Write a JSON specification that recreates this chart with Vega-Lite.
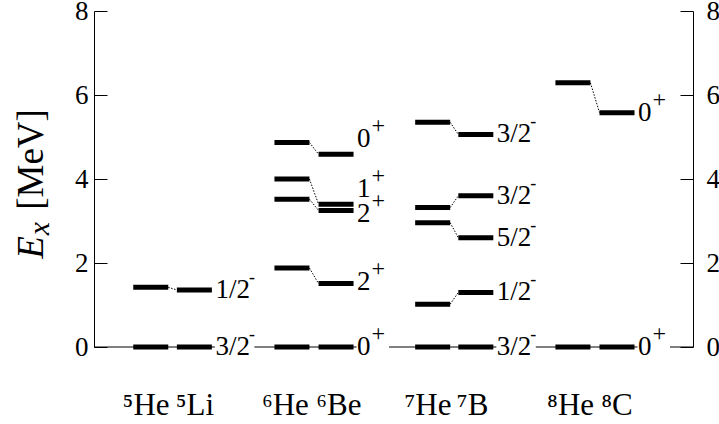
{
  "$schema": "https://vega.github.io/schema/vega-lite/v6.json",
  "width": 599,
  "height": 336,
  "autosize": {"type": "none"},
  "padding": {"left": 94, "top": 11, "right": 26, "bottom": 77},
  "background": "white",
  "config": {
    "view": {"stroke": null},
    "font": "Liberation Serif",
    "axis": {"grid": false, "domainColor": "black", "tickColor": "black", "labelColor": "black", "titleColor": "black", "labelFont": "Liberation Serif", "titleFont": "Liberation Serif", "titleFontWeight": "normal"},
    "text": {"font": "Liberation Serif", "color": "black"}
  },
  "datasets": {
    "nuclei": [
      {"nuc": "5He", "pos": 1.21}, {"nuc": "5Li", "pos": 2.14},
      {"nuc": "6He", "pos": 4.22}, {"nuc": "6Be", "pos": 5.16},
      {"nuc": "7He", "pos": 7.22}, {"nuc": "7B", "pos": 8.14},
      {"nuc": "8He", "pos": 10.21}, {"nuc": "8C", "pos": 11.15},
      {"nuc": "axisL", "pos": 0}, {"nuc": "axisR", "pos": 12.77}
    ],
    "levels": [
      {"nuc": "5He", "E": 0}, {"nuc": "5He", "E": 1.42},
      {"nuc": "5Li", "E": 0}, {"nuc": "5Li", "E": 1.36},
      {"nuc": "6He", "E": 0}, {"nuc": "6He", "E": 1.88}, {"nuc": "6He", "E": 3.52}, {"nuc": "6He", "E": 4.0}, {"nuc": "6He", "E": 4.87},
      {"nuc": "6Be", "E": 0}, {"nuc": "6Be", "E": 1.51}, {"nuc": "6Be", "E": 3.25}, {"nuc": "6Be", "E": 3.4}, {"nuc": "6Be", "E": 4.59},
      {"nuc": "7He", "E": 0}, {"nuc": "7He", "E": 1.02}, {"nuc": "7He", "E": 2.96}, {"nuc": "7He", "E": 3.32}, {"nuc": "7He", "E": 5.35},
      {"nuc": "7B", "E": 0}, {"nuc": "7B", "E": 1.3}, {"nuc": "7B", "E": 2.6}, {"nuc": "7B", "E": 3.6}, {"nuc": "7B", "E": 5.06},
      {"nuc": "8He", "E": 0}, {"nuc": "8He", "E": 6.29},
      {"nuc": "8C", "E": 0}, {"nuc": "8C", "E": 5.58}
    ],
    "links": [
      {"from": "5He", "to": "5Li", "E1": 1.42, "E2": 1.36},
      {"from": "6He", "to": "6Be", "E1": 4.87, "E2": 4.59},
      {"from": "6He", "to": "6Be", "E1": 4.0, "E2": 3.4},
      {"from": "6He", "to": "6Be", "E1": 3.52, "E2": 3.25},
      {"from": "6He", "to": "6Be", "E1": 1.88, "E2": 1.51},
      {"from": "7He", "to": "7B", "E1": 5.35, "E2": 5.06},
      {"from": "7He", "to": "7B", "E1": 3.32, "E2": 3.6},
      {"from": "7He", "to": "7B", "E1": 2.96, "E2": 2.6},
      {"from": "7He", "to": "7B", "E1": 1.02, "E2": 1.3},
      {"from": "8He", "to": "8C", "E1": 6.29, "E2": 5.58}
    ],
    "labels": [
      {"nuc": "5Li", "E": 1.36, "base": "1/2", "sup": "-"},
      {"nuc": "5Li", "E": 0, "base": "3/2", "sup": "-"},
      {"nuc": "6Be", "E": 4.96, "base": "0", "sup": "+"},
      {"nuc": "6Be", "E": 3.76, "base": "1", "sup": "+"},
      {"nuc": "6Be", "E": 3.17, "base": "2", "sup": "+"},
      {"nuc": "6Be", "E": 1.54, "base": "2", "sup": "+"},
      {"nuc": "6Be", "E": 0, "base": "0", "sup": "+"},
      {"nuc": "7B", "E": 5.06, "base": "3/2", "sup": "-"},
      {"nuc": "7B", "E": 3.6, "base": "3/2", "sup": "-"},
      {"nuc": "7B", "E": 2.6, "base": "5/2", "sup": "-"},
      {"nuc": "7B", "E": 1.3, "base": "1/2", "sup": "-"},
      {"nuc": "7B", "E": 0, "base": "3/2", "sup": "-"},
      {"nuc": "8C", "E": 5.58, "base": "0", "sup": "+"},
      {"nuc": "8C", "E": 0, "base": "0", "sup": "+"}
    ],
    "baseline": [
      {"from": "axisL", "to": "5He", "gap": "none"},
      {"from": "5He", "to": "5Li", "gap": "pair"},
      {"from": "5Li", "to": "6He", "gap": "half"},
      {"from": "6He", "to": "6Be", "gap": "pair"},
      {"from": "6Be", "to": "7He", "gap": "int"},
      {"from": "7He", "to": "7B", "gap": "pair"},
      {"from": "7B", "to": "8He", "gap": "half"},
      {"from": "8He", "to": "8C", "gap": "pair"},
      {"from": "8C", "to": "axisR", "gap": "int"}
    ]
  },
  "resolve": {"axis": {"y": "independent", "x": "independent"}},
  "layer": [
    {
      "data": {"name": "baseline"},
      "transform": [
        {"filter": "datum.gap == 'none'"},
        {"lookup": "from", "from": {"data": {"name": "nuclei"}, "key": "nuc", "fields": ["pos"]}, "as": ["fromPos"]},
        {"lookup": "to", "from": {"data": {"name": "nuclei"}, "key": "nuc", "fields": ["pos"]}, "as": ["toPos"]}
      ],
      "mark": {"type": "rule", "color": "black", "strokeWidth": 1},
      "encoding": {
        "x": {"field": "fromPos", "type": "quantitative", "scale": {"domain": [0, 12.77], "nice": false, "zero": false}, "axis": null},
        "x2": {"field": "toPos"},
        "y": {"datum": 0, "type": "quantitative", "scale": {"domain": [0, 8], "nice": false, "zero": false}, "axis": null}
      }
    },
    {
      "data": {"name": "baseline"},
      "transform": [
        {"filter": "datum.gap == 'pair'"},
        {"lookup": "from", "from": {"data": {"name": "nuclei"}, "key": "nuc", "fields": ["pos"]}, "as": ["fromPos"]},
        {"lookup": "to", "from": {"data": {"name": "nuclei"}, "key": "nuc", "fields": ["pos"]}, "as": ["toPos"]}
      ],
      "mark": {"type": "rule", "color": "black", "strokeWidth": 1, "x2Offset": 20.5},
      "encoding": {
        "x": {"field": "fromPos", "type": "quantitative", "scale": {"domain": [0, 12.77], "nice": false, "zero": false}, "axis": null},
        "x2": {"field": "toPos"},
        "y": {"datum": 0, "type": "quantitative", "scale": {"domain": [0, 8], "nice": false, "zero": false}, "axis": null}
      }
    },
    {
      "data": {"name": "baseline"},
      "transform": [
        {"filter": "datum.gap == 'half'"},
        {"lookup": "from", "from": {"data": {"name": "nuclei"}, "key": "nuc", "fields": ["pos"]}, "as": ["fromPos"]},
        {"lookup": "to", "from": {"data": {"name": "nuclei"}, "key": "nuc", "fields": ["pos"]}, "as": ["toPos"]}
      ],
      "mark": {"type": "rule", "color": "black", "strokeWidth": 1, "xOffset": 60},
      "encoding": {
        "x": {"field": "fromPos", "type": "quantitative", "scale": {"domain": [0, 12.77], "nice": false, "zero": false}, "axis": null},
        "x2": {"field": "toPos"},
        "y": {"datum": 0, "type": "quantitative", "scale": {"domain": [0, 8], "nice": false, "zero": false}, "axis": null}
      }
    },
    {
      "data": {"name": "baseline"},
      "transform": [
        {"filter": "datum.gap == 'int'"},
        {"lookup": "from", "from": {"data": {"name": "nuclei"}, "key": "nuc", "fields": ["pos"]}, "as": ["fromPos"]},
        {"lookup": "to", "from": {"data": {"name": "nuclei"}, "key": "nuc", "fields": ["pos"]}, "as": ["toPos"]}
      ],
      "mark": {"type": "rule", "color": "black", "strokeWidth": 1, "xOffset": 53},
      "encoding": {
        "x": {"field": "fromPos", "type": "quantitative", "scale": {"domain": [0, 12.77], "nice": false, "zero": false}, "axis": null},
        "x2": {"field": "toPos"},
        "y": {"datum": 0, "type": "quantitative", "scale": {"domain": [0, 8], "nice": false, "zero": false}, "axis": null}
      }
    },
    {
      "data": {"name": "links"},
      "transform": [
        {"lookup": "from", "from": {"data": {"name": "nuclei"}, "key": "nuc", "fields": ["pos"]}, "as": ["fromPos"]},
        {"lookup": "to", "from": {"data": {"name": "nuclei"}, "key": "nuc", "fields": ["pos"]}, "as": ["toPos"]}
      ],
      "mark": {"type": "rule", "color": "black", "strokeWidth": 1, "strokeDash": [1.5, 1.5], "xOffset": 17.5, "x2Offset": -17.5},
      "encoding": {
        "x": {"field": "fromPos", "type": "quantitative", "scale": {"domain": [0, 12.77], "nice": false, "zero": false}, "axis": null},
        "x2": {"field": "toPos"},
        "y": {"field": "E1", "type": "quantitative", "scale": {"domain": [0, 8], "nice": false, "zero": false},
          "axis": {"orient": "right", "values": [0, 2, 4, 6, 8], "tickSize": -13, "labelPadding": 26, "labelFontSize": 27, "labelFlush": false, "labelOverlap": false, "domainWidth": 1, "tickWidth": 1,
            "title": "E", "titleFontStyle": "italic", "titleFontSize": 37, "titleAngle": -90, "titleX": -662, "titleY": 236, "titleAlign": "center", "titleBaseline": "middle"}},
        "y2": {"field": "E2"}
      }
    },
    {
      "data": {"name": "levels"},
      "transform": [
        {"lookup": "nuc", "from": {"data": {"name": "nuclei"}, "key": "nuc", "fields": ["pos"]}}
      ],
      "mark": {"type": "tick", "orient": "horizontal", "size": 35, "thickness": 5, "color": "black", "opacity": 1},
      "encoding": {
        "x": {"field": "pos", "type": "quantitative", "scale": {"domain": [0, 12.77], "nice": false, "zero": false},
          "axis": {"orient": "bottom", "values": [1.1, 2.14, 4.07, 5.21, 7.11, 8.06, 10.15, 11.14],
            "labelExpr": "datum.value < 1.5 ? '⁵He' : datum.value < 3 ? '⁵Li' : datum.value < 4.5 ? '⁶He' : datum.value < 6 ? '⁶Be' : datum.value < 7.5 ? '⁷He' : datum.value < 9 ? '⁷B' : datum.value < 10.5 ? '⁸He' : '⁸C'",
            "domain": false, "ticks": false, "labelFontSize": 31, "labelBaseline": "alphabetic", "labelPadding": 67, "labelFlush": false, "labelOverlap": false,
            "title": "x", "titleFontStyle": "italic", "titleFontSize": 30, "titleAngle": -90, "titleX": -54.5, "titleY": -119, "titleAlign": "center", "titleBaseline": "middle"}},
        "y": {"field": "E", "type": "quantitative", "scale": {"domain": [0, 8], "nice": false, "zero": false},
          "axis": {"orient": "left", "values": [0, 2, 4, 6, 8], "tickSize": -13, "labelPadding": 19, "labelFontSize": 27, "labelFlush": false, "labelOverlap": false, "domainWidth": 1, "tickWidth": 1,
            "title": "[MeV]", "titleFontSize": 37, "titleAngle": -90, "titleX": -63, "titleY": 148, "titleAlign": "center", "titleBaseline": "middle"}}
      }
    },
    {
      "data": {"name": "labels"},
      "transform": [
        {"lookup": "nuc", "from": {"data": {"name": "nuclei"}, "key": "nuc", "fields": ["pos"]}}
      ],
      "mark": {"type": "text", "align": "left", "baseline": "middle", "dx": 21, "fontSize": 27},
      "encoding": {
        "x": {"field": "pos", "type": "quantitative", "scale": {"domain": [0, 12.77], "nice": false, "zero": false}, "axis": null},
        "y": {"field": "E", "type": "quantitative", "scale": {"domain": [0, 8], "nice": false, "zero": false}, "axis": null},
        "text": {"field": "base"}
      }
    },
    {
      "data": {"name": "labels"},
      "transform": [
        {"filter": "datum.sup == '-'"},
        {"lookup": "nuc", "from": {"data": {"name": "nuclei"}, "key": "nuc", "fields": ["pos"]}}
      ],
      "mark": {"type": "text", "align": "left", "baseline": "middle", "dx": 54.5, "dy": -12, "fontSize": 18},
      "encoding": {
        "x": {"field": "pos", "type": "quantitative", "scale": {"domain": [0, 12.77], "nice": false, "zero": false}, "axis": null},
        "y": {"field": "E", "type": "quantitative", "scale": {"domain": [0, 8], "nice": false, "zero": false}, "axis": null},
        "text": {"field": "sup"}
      }
    },
    {
      "data": {"name": "labels"},
      "transform": [
        {"filter": "datum.sup == '+'"},
        {"lookup": "nuc", "from": {"data": {"name": "nuclei"}, "key": "nuc", "fields": ["pos"]}}
      ],
      "mark": {"type": "text", "align": "left", "baseline": "middle", "dx": 35.5, "dy": -13, "fontSize": 24},
      "encoding": {
        "x": {"field": "pos", "type": "quantitative", "scale": {"domain": [0, 12.77], "nice": false, "zero": false}, "axis": null},
        "y": {"field": "E", "type": "quantitative", "scale": {"domain": [0, 8], "nice": false, "zero": false}, "axis": null},
        "text": {"field": "sup"}
      }
    }
  ]
}
